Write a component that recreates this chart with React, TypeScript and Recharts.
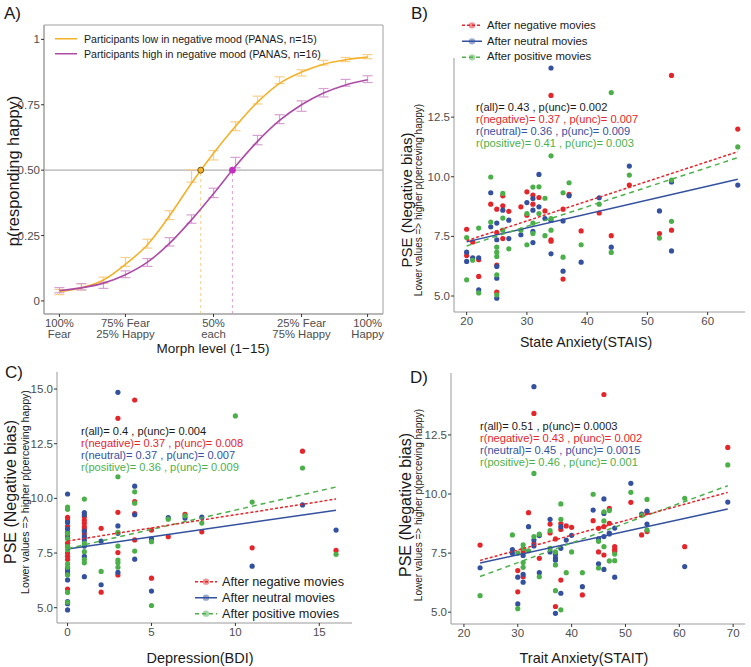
import React from 'react'
import {
  ComposedChart,
  ScatterChart,
  Scatter,
  Line,
  XAxis,
  YAxis,
  ReferenceLine,
  ReferenceDot,
  ReferenceArea,
  ErrorBar,
} from 'recharts'

const FONT = '"Liberation Sans", Arial, Helvetica, sans-serif'
const TICK = { fill: '#4d4d4d', fontSize: 11.5, fontFamily: FONT }

const RED = '#e4262b'
const BLUE = '#34519f'
const GREEN = '#4cb04a'
const GOLD = '#f4b12a'
const PURPLE = '#ad4ca6'

// ---- panel A: psychometric curves
const morphLevels = [1, 2, 3, 4, 5, 6, 7, 8, 9, 10, 11, 12, 13, 14, 15]
const lowMoodObserved = [0.034, 0.054, 0.079, 0.149, 0.219, 0.328, 0.478, 0.557, 0.668, 0.768, 0.844, 0.872, 0.911, 0.923, 0.934]
const lowMoodSE = [0.01, 0.012, 0.012, 0.017, 0.017, 0.017, 0.024, 0.018, 0.017, 0.015, 0.013, 0.012, 0.009, 0.008, 0.008]
const lowMoodFit = [0.035, 0.05, 0.08, 0.14, 0.215, 0.325, 0.45, 0.565, 0.668, 0.76, 0.832, 0.875, 0.905, 0.922, 0.932]
const highMoodObserved = [0.041, 0.054, 0.06, 0.102, 0.147, 0.226, 0.313, 0.413, 0.529, 0.615, 0.695, 0.745, 0.796, 0.834, 0.848]
const highMoodSE = [0.01, 0.012, 0.012, 0.013, 0.015, 0.016, 0.016, 0.018, 0.02, 0.018, 0.017, 0.02, 0.016, 0.013, 0.013]
const highMoodFit = [0.04, 0.05, 0.068, 0.1, 0.148, 0.22, 0.31, 0.41, 0.515, 0.61, 0.69, 0.75, 0.795, 0.826, 0.846]
const pseLow = 7.42
const pseHigh = 8.86
const morphTicks = [1, 4, 8, 12, 15]
const morphTickTop = ['100%', '75% Fear', '50%', '25% Fear', '100%']
const morphTickBottom = ['Fear', '25% Happy', 'each', '75% Happy', 'Happy']
const probTicks = [0, 0.25, 0.5, 0.75, 1]
const probTickLabels = ['0', '0.25', '0.50', '0.75', '1']

// ---- panel B: state anxiety
const bNegative = [
  [20, 7.8], [20, 6.7], [21, 7.27], [22, 6.52], [22, 5.82], [24, 8.85], [25, 8.64], [25, 7.66], [25, 6.3], [25, 5.16],
  [26, 9.2], [26, 8.78], [26, 7.41], [27, 8.55], [29, 8.74], [30, 9.37], [30, 8.39], [31, 9.23], [31, 8.85], [32, 9.13],
  [33, 8.57], [34, 13.41], [34, 7.36], [34, 7.3], [36, 8.64], [36, 5.71], [37, 9.26], [39, 7.73], [42, 8.48], [44, 7.53],
  [47, 9.65], [52, 7.62], [54, 14.25], [54, 7.76], [65, 12.0],
]
const bNeutral = [
  [20, 6.84], [20, 6.45], [21, 6.6], [22, 6.6], [22, 5.26], [24, 9.33], [24, 7.9], [25, 8.06], [25, 7.36], [25, 6.24],
  [25, 5.75], [25, 4.91], [26, 8.6], [27, 8.18], [27, 7.41], [29, 7.57], [30, 8.92], [31, 9.09], [31, 8.6], [31, 7.71],
  [31, 7.24], [32, 10.1], [32, 8.74], [33, 8.25], [34, 14.56], [34, 8.17], [34, 6.77], [36, 8.15], [36, 6.04], [37, 9.2],
  [39, 6.42], [42, 9.12], [44, 7.05], [47, 10.45], [52, 8.57], [54, 9.78], [54, 6.89], [65, 9.65],
]
const bPositive = [
  [20, 7.45], [20, 5.68], [21, 6.5], [22, 7.85], [22, 5.13], [24, 9.99], [24, 8.1], [25, 7.05], [25, 6.84], [25, 6.66],
  [25, 5.89], [25, 5.05], [26, 9.3], [26, 8.27], [26, 7.76], [27, 6.98], [29, 7.76], [30, 8.46], [30, 7.15], [31, 9.57],
  [31, 8.06], [31, 7.62], [32, 9.58], [32, 8.46], [33, 9.1], [33, 7.53], [34, 10.88], [34, 8.25], [34, 7.76], [36, 9.33],
  [36, 6.63], [37, 9.75], [39, 7.15], [42, 8.85], [44, 13.53], [44, 6.83], [47, 10.07], [52, 7.43], [54, 9.86], [54, 8.13],
  [65, 11.25],
]
const bNegativeFit = [[20, 7.32], [65, 11.05]]
const bNeutralFit = [[20, 7.27], [65, 9.9]]
const bPositiveFit = [[20, 7.1], [65, 10.8]]

// ---- panel C: depression
const cNegative = [
  [0, 9.13], [0, 8.98], [0, 8.72], [0, 8.3], [0, 7.95], [0, 7.8], [0, 7.5], [0, 7.35], [0, 7.2], [0, 5.85],
  [1, 9.16], [1, 9.0], [1, 8.86], [1, 8.7], [1, 8.58], [1, 8.37], [2, 8.63], [2, 5.71], [3, 13.66], [3, 9.36],
  [3, 7.52], [3, 6.5], [4, 14.5], [4, 9.85], [4, 9.3], [4, 8.1], [5, 8.55], [5, 6.35], [6, 8.25], [7, 9.27],
  [8, 8.47], [11, 7.74], [14, 12.16], [16, 7.62],
]
const cNeutral = [
  [0, 10.2], [0, 8.9], [0, 8.6], [0, 8.45], [0, 8.2], [0, 6.8], [0, 6.68], [0, 6.55], [0, 6.27], [0, 5.28],
  [0, 5.18], [0, 4.9], [1, 9.35], [1, 9.25], [1, 8.5], [1, 8.25], [1, 8.1], [1, 7.82], [1, 7.35], [1, 6.42],
  [2, 8.05], [2, 6.05], [3, 14.85], [3, 8.74], [3, 8.4], [3, 6.62], [4, 10.56], [4, 9.25], [4, 7.22], [5, 8.15],
  [5, 5.76], [6, 9.12], [7, 9.1], [8, 9.14], [11, 6.9], [14, 9.7], [16, 8.55],
]
const cPositive = [
  [0, 9.6], [0, 9.5], [0, 8.4], [0, 8.15], [0, 7.8], [0, 7.65], [0, 7.0], [0, 6.85], [0, 6.5], [0, 5.7],
  [0, 5.25], [1, 9.97], [1, 7.94], [1, 7.56], [1, 7.2], [1, 7.05], [2, 6.66], [3, 10.99], [3, 8.45], [3, 7.82],
  [3, 7.18], [3, 7.05], [3, 6.85], [4, 10.3], [4, 9.78], [4, 7.59], [5, 8.02], [5, 5.1], [6, 9.05], [7, 9.2],
  [8, 8.87], [10, 13.77], [11, 9.83], [14, 11.39], [16, 7.44],
]
const cNegativeFit = [[0, 8.05], [16, 9.97]]
const cNeutralFit = [[0, 7.68], [16, 9.46]]
const cPositiveFit = [[0, 7.7], [16, 10.52]]

// ---- panel D: trait anxiety
const dNegative = [
  [23, 7.84], [30, 6.76], [30, 5.86], [31, 7.65], [31, 7.55], [31, 6.5], [32, 9.21], [33, 13.41], [33, 7.9], [34, 7.28],
  [36, 8.73], [36, 8.35], [37, 8.1], [37, 5.24], [38, 8.75], [38, 8.5], [38, 6.36], [39, 8.65], [40, 8.59], [42, 5.73],
  [44, 8.87], [45, 8.55], [45, 7.55], [46, 14.21], [46, 8.62], [46, 7.42], [47, 9.39], [47, 8.76], [48, 7.77], [48, 7.66],
  [48, 7.56], [51, 9.65], [53, 8.27], [54, 9.22], [54, 8.41], [61, 7.77], [69, 11.97],
]
const dNeutral = [
  [23, 6.88], [29, 7.65], [29, 7.49], [30, 6.48], [30, 5.35], [31, 7.4], [31, 6.6], [31, 6.27], [32, 8.62], [33, 14.54],
  [33, 8.05], [33, 7.8], [34, 8.24], [34, 6.67], [36, 8.93], [36, 7.55], [37, 7.45], [37, 7.3], [37, 7.2], [37, 4.95],
  [38, 8.62], [38, 7.7], [38, 5.8], [39, 8.05], [40, 8.25], [42, 6.08], [44, 9.32], [45, 8.1], [45, 7.05], [46, 9.79],
  [46, 9.18], [46, 8.2], [46, 6.81], [47, 8.31], [47, 8.35], [48, 8.56], [48, 6.48], [51, 10.45], [53, 9.15], [54, 9.28],
  [54, 8.73], [61, 6.93], [69, 9.66],
]
const dPositive = [
  [23, 5.7], [29, 8.27], [30, 7.5], [30, 5.15], [31, 7.85], [31, 7.7], [31, 7.1], [31, 6.9], [32, 7.6], [33, 10.87],
  [33, 8.2], [34, 8.3], [34, 6.5], [36, 8.45], [36, 7.7], [37, 7.55], [37, 7.0], [37, 5.91], [38, 9.58], [38, 8.93],
  [38, 5.1], [39, 6.67], [40, 7.55], [42, 6.67], [44, 9.99], [45, 8.0], [45, 6.87], [46, 9.25], [46, 8.86], [46, 7.77],
  [47, 9.3], [47, 7.17], [48, 7.46], [48, 7.18], [51, 10.07], [53, 9.11], [54, 9.77], [54, 8.48], [61, 9.82], [69, 11.23],
]
const dNegativeFit = [[23, 7.19], [69, 10.07]]
const dNeutralFit = [[23, 7.08], [69, 9.37]]
const dPositiveFit = [[23, 6.51], [69, 10.35]]

const pseTicks = [5, 7.5, 10, 12.5]
const pseTicksC = [5, 7.5, 10, 12.5, 15]

const movieLabels = ['After negative movies', 'After neutral movies', 'After positive movies']
const bStats = ['r(all)= 0.43 , p(unc)= 0.002', 'r(negative)= 0.37 , p(unc)= 0.007', 'r(neutral)= 0.36 , p(unc)= 0.009', 'r(positive)= 0.41 , p(unc)= 0.003']
const cStats = ['r(all)= 0.4 , p(unc)= 0.004', 'r(negative)= 0.37 , p(unc)= 0.008', 'r(neutral)= 0.37 , p(unc)= 0.007', 'r(positive)= 0.36 , p(unc)= 0.009']
const dStats = ['r(all)= 0.51 , p(unc)= 0.0003', 'r(negative)= 0.43 , p(unc)= 0.002', 'r(neutral)= 0.45 , p(unc)= 0.0015', 'r(positive)= 0.46 , p(unc)= 0.001']
const statColors = ['#1a1a1a', RED, BLUE, GREEN]

const toPts = (arr: number[][]) => arr.map(([x, y]) => ({ x, y }))

function Txt({ x, y, size, color = '#1a1a1a', anchor = 'start', rotate = false, children }: any) {
  const tx = anchor === 'middle' ? '-50%' : anchor === 'end' ? '-100%' : '0'
  return (
    <div
      style={{
        position: 'absolute',
        left: x,
        top: y,
        fontSize: size,
        color,
        whiteSpace: 'nowrap',
        lineHeight: 1,
        transform: rotate ? 'translate(-50%,-50%) rotate(-90deg)' : `translate(${tx},-50%)`,
      }}
    >
      {children}
    </div>
  )
}

function KeyRow({ x, y, w, color, dash, label, size, gap = 5, dot = true }: any) {
  return (
    <div style={{ position: 'absolute', left: x, top: y, transform: 'translateY(-50%)', display: 'flex', alignItems: 'center', whiteSpace: 'nowrap' }}>
      <svg width={w} height={10} style={{ display: 'block' }}>
        <line x1={0} y1={5} x2={w} y2={5} stroke={color} strokeWidth={1.5} strokeDasharray={dash} />
        {dot && <circle cx={w / 2} cy={5} r={3.2} fill={color} opacity={0.5} />}
      </svg>
      <span style={{ marginLeft: gap, fontSize: size, color: '#1a1a1a', lineHeight: 1 }}>{label}</span>
    </div>
  )
}

function MorphTick({ x, y, payload }: any) {
  const i = morphTicks.indexOf(payload.value)
  return (
    <text x={x} y={y} textAnchor="middle" fill="#4d4d4d" fontSize={11.3} fontFamily={FONT}>
      <tspan x={x} dy="0.71em">{morphTickTop[i]}</tspan>
      <tspan x={x} dy="1.02em">{morphTickBottom[i]}</tspan>
    </text>
  )
}

const dotShape = (color: string) => (p: any) => <circle cx={p.cx} cy={p.cy} r={2.6} fill={color} />
const noShape = () => <g />

function PanelA() {
  const rows = morphLevels.map((level, i) => ({
    level,
    lowFit: lowMoodFit[i],
    lowObs: lowMoodObserved[i],
    lowSE: lowMoodSE[i],
    highFit: highMoodFit[i],
    highObs: highMoodObserved[i],
    highSE: highMoodSE[i],
  }))
  return (
    <div style={{ position: 'absolute', left: 0, top: 0 }}>
      <ComposedChart width={390} height={360} data={rows} margin={{ top: 25, right: 7, bottom: 16, left: 14 }}>
        <XAxis
          type="number"
          dataKey="level"
          domain={[0.3, 15.7]}
          ticks={morphTicks}
          interval={0}
          tick={<MorphTick />}
          tickSize={3}
          tickMargin={1.5}
          tickLine={{ stroke: '#333' }}
          axisLine={{ stroke: '#a0a0a0' }}
          height={30}
          allowDataOverflow
        />
        <YAxis
          type="number"
          domain={[-0.05, 1.055]}
          ticks={probTicks}
          interval={0}
          tickFormatter={(v: number) => probTickLabels[probTicks.indexOf(v)]}
          tick={TICK}
          tickSize={3}
          tickMargin={1}
          tickLine={{ stroke: '#333' }}
          axisLine={{ stroke: '#a0a0a0' }}
          width={30}
          allowDataOverflow
        />
        <ReferenceArea x1={0.3} x2={15.7} y1={-0.05} y2={1.055} fill="none" stroke="#a0a0a0" strokeWidth={1} />
        <ReferenceLine y={0.5} stroke="#b0b0b0" strokeWidth={1.2} />
        <ReferenceLine segment={[{ x: pseLow, y: -0.05 }, { x: pseLow, y: 0.5 }]} stroke="#f7cf8e" strokeDasharray="3 3" />
        <ReferenceLine segment={[{ x: pseHigh, y: -0.05 }, { x: pseHigh, y: 0.5 }]} stroke="#dca4d6" strokeDasharray="3 3" />
        <Line dataKey="lowObs" stroke="none" dot={false} activeDot={false} isAnimationActive={false}>
          <ErrorBar dataKey="lowSE" width={5} stroke="#f7d08a" strokeWidth={1.2} />
        </Line>
        <Line dataKey="highObs" stroke="none" dot={false} activeDot={false} isAnimationActive={false}>
          <ErrorBar dataKey="highSE" width={5} stroke="#d6a2d1" strokeWidth={1.2} />
        </Line>
        <Line dataKey="lowFit" type="monotone" stroke={GOLD} strokeWidth={1.6} dot={false} activeDot={false} isAnimationActive={false} />
        <Line dataKey="highFit" type="monotone" stroke={PURPLE} strokeWidth={1.6} dot={false} activeDot={false} isAnimationActive={false} />
        <ReferenceDot x={pseLow} y={0.5} r={3} fill={GOLD} stroke="#7a5a16" strokeWidth={1} />
        <ReferenceDot x={pseHigh} y={0.5} r={3} fill="#c52fc0" stroke="#c52fc0" strokeWidth={1} />
      </ComposedChart>
    </div>
  )
}

function ScatterPanel({ left, top, width, height, margin, xDomain, xTicks, yDomain, yTicks, neg, neu, pos, negFit, neuFit, posFit }: any) {
  return (
    <div style={{ position: 'absolute', left, top }}>
      <ScatterChart width={width} height={height} margin={margin}>
        <XAxis
          type="number"
          dataKey="x"
          domain={xDomain}
          ticks={xTicks}
          interval={0}
          tick={TICK}
          tickSize={3}
          tickMargin={2}
          tickLine={{ stroke: '#333' }}
          axisLine={{ stroke: '#999' }}
          height={25}
          allowDataOverflow
        />
        <YAxis
          type="number"
          dataKey="y"
          domain={yDomain}
          ticks={yTicks}
          interval={0}
          tickFormatter={(v: number) => v.toFixed(1)}
          tick={TICK}
          tickSize={3}
          tickMargin={1}
          tickLine={{ stroke: '#333' }}
          axisLine={{ stroke: '#999' }}
          width={40}
          allowDataOverflow
        />
        <Scatter data={toPts(neg)} shape={dotShape(RED)} isAnimationActive={false} />
        <Scatter data={toPts(neu)} shape={dotShape(BLUE)} isAnimationActive={false} />
        <Scatter data={toPts(pos)} shape={dotShape(GREEN)} isAnimationActive={false} />
        <Scatter data={toPts(neuFit)} shape={noShape} line={{ stroke: BLUE, strokeWidth: 1.5 }} isAnimationActive={false} />
        <Scatter data={toPts(posFit)} shape={noShape} line={{ stroke: GREEN, strokeWidth: 1.5, strokeDasharray: '5 4' }} isAnimationActive={false} />
        <Scatter data={toPts(negFit)} shape={noShape} line={{ stroke: RED, strokeWidth: 1.5, strokeDasharray: '3 2' }} isAnimationActive={false} />
      </ScatterChart>
    </div>
  )
}

function Stats({ x, y, lines }: any) {
  return (
    <>
      {lines.map((s: string, i: number) => (
        <Txt key={s} x={x} y={y + i * 12} size={11.1} color={statColors[i]}>
          {s}
        </Txt>
      ))}
    </>
  )
}

function PseTitle({ x, y, big, small, offset }: any) {
  return (
    <>
      <Txt x={x} y={y} size={big} rotate>
        PSE (Negative bias)
      </Txt>
      <Txt x={x + offset} y={y} size={small} rotate>
        Lower values =&gt; higher p(perceving happy)
      </Txt>
    </>
  )
}

export default function App() {
  const movieColors = [RED, BLUE, GREEN]
  const movieDash = ['3 2', undefined, '4 3']
  return (
    <div style={{ position: 'absolute', left: 0, top: 0, width: 751, height: 667, background: '#fff', fontFamily: FONT, overflow: 'hidden' }}>
      <PanelA />
      <ScatterPanel
        left={375} top={0} width={376} height={360}
        margin={{ top: 58, right: 6, bottom: 23, left: 39 }}
        xDomain={[17.9, 66.2]} xTicks={[20, 30, 40, 50, 60]}
        yDomain={[4.33, 14.98]} yTicks={pseTicks}
        neg={bNegative} neu={bNeutral} pos={bPositive}
        negFit={bNegativeFit} neuFit={bNeutralFit} posFit={bPositiveFit}
      />
      <ScatterPanel
        left={0} top={360} width={375} height={307}
        margin={{ top: 12, right: 23, bottom: 19, left: 17 }}
        xDomain={[-0.63, 16.95]} xTicks={[0, 5, 10, 15]}
        yDomain={[4.3, 15.78]} yTicks={pseTicksC}
        neg={cNegative} neu={cNeutral} pos={cPositive}
        negFit={cNegativeFit} neuFit={cNeutralFit} posFit={cPositiveFit}
      />
      <ScatterPanel
        left={375} top={360} width={376} height={307}
        margin={{ top: 13, right: 6, bottom: 18, left: 36 }}
        xDomain={[17.6, 72.2]} xTicks={[20, 30, 40, 50, 60, 70]}
        yDomain={[4.5, 15.12]} yTicks={pseTicks}
        neg={dNegative} neu={dNeutral} pos={dPositive}
        negFit={dNegativeFit} neuFit={dNeutralFit} posFit={dPositiveFit}
      />

      {/* panel letters */}
      <Txt x={4} y={13} size={17}>A)</Txt>
      <Txt x={411} y={12.5} size={17}>B)</Txt>
      <Txt x={5} y={372} size={17}>C)</Txt>
      <Txt x={410} y={377} size={17}>D)</Txt>

      {/* panel A legend + titles */}
      <KeyRow x={55} y={39} w={22} color={GOLD} label="Participants low in negative mood (PANAS, n=15)" size={10.6} gap={7} dot={false} />
      <KeyRow x={55} y={53.5} w={22} color={PURPLE} label="Participants high in negative mood (PANAS, n=16)" size={10.6} gap={7} dot={false} />
      <Txt x={13} y={171} size={16.4} rotate>p(responding happy)</Txt>
      <Txt x={213} y={348.5} size={13.5} anchor="middle">Morph level (1−15)</Txt>

      {/* panel B */}
      {movieLabels.map((l, i) => (
        <KeyRow key={l} x={462} y={25.7 + i * 15.8} w={20} color={movieColors[i]} dash={movieDash[i]} label={l} size={11.3} />
      ))}
      <Stats x={476} y={108.3} lines={bStats} />
      <PseTitle x={406} y={200} big={15} small={10} offset={13} />
      <Txt x={586} y={342} size={14.2} anchor="middle">State Anxiety(STAIS)</Txt>

      {/* panel C */}
      {movieLabels.map((l, i) => (
        <KeyRow key={l} x={195} y={581.7 + i * 16} w={22} color={movieColors[i]} dash={movieDash[i]} label={l} size={12.7} />
      ))}
      <Stats x={81} y={431.7} lines={cStats} />
      <PseTitle x={11} y={492} big={16} small={10.6} offset={14} />
      <Txt x={200} y={658} size={14.5} anchor="middle">Depression(BDI)</Txt>

      {/* panel D */}
      <Stats x={480} y={426.7} lines={dStats} />
      <PseTitle x={405.5} y={505} big={16} small={10} offset={13.5} />
      <Txt x={584} y={658} size={14.5} anchor="middle">Trait Anxiety(STAIT)</Txt>
    </div>
  )
}
